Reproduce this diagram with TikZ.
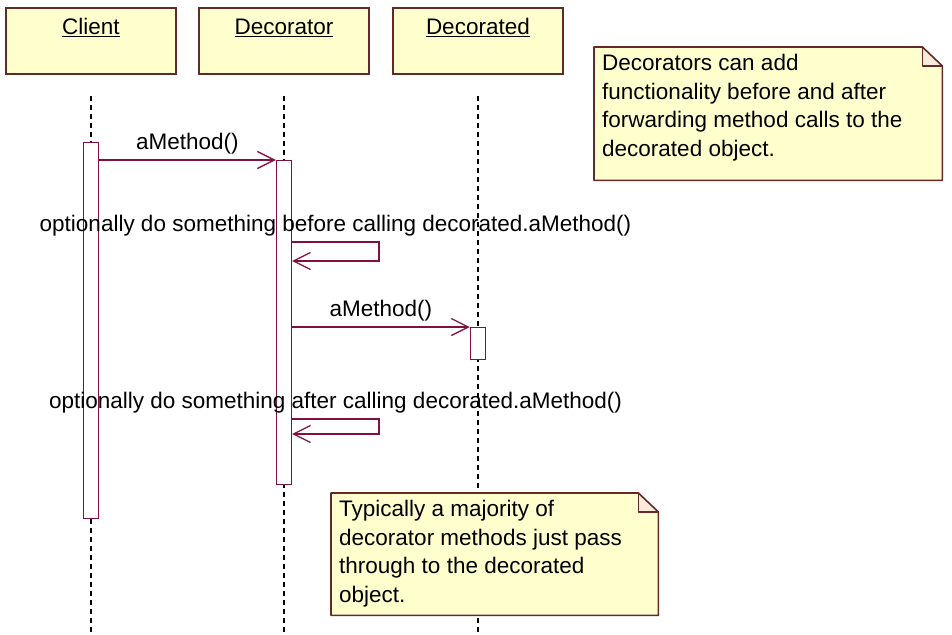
\documentclass[tikz,border=0pt]{standalone}
\usepackage{fontspec}
\setmainfont{Liberation Sans}
\usetikzlibrary{arrows.meta, positioning, calc}

\definecolor{msgline}{RGB}{128,16,64}
\definecolor{objborder}{RGB}{100,42,42}
\definecolor{objfill}{RGB}{255,255,206}
\definecolor{earfill}{RGB}{252,234,218}

\begin{document}
\begin{tikzpicture}[
  x=1pt, y=-1pt,
  font=\fontsize{22.5}{28.5}\selectfont,
  objbox/.style={rectangle, draw=objborder, fill=objfill, line width=1.8pt,
                 minimum width=170pt, minimum height=66pt, inner sep=0pt, anchor=north west},
  objlabel/.style={anchor=base, inner sep=0pt},
  actbox/.style={rectangle, draw=msgline, fill=white, line width=1.3pt,
                 minimum width=15pt, inner sep=0pt, anchor=north},
  lifeline/.style={line width=1.6pt, dash pattern=on 5pt off 4pt},
  msg/.style={draw=msgline, line width=1.3pt, -{Straight Barb[length=17pt, width=17pt]}},
  msglabel/.style={above=5pt, inner sep=0pt},
  noteshape/.style={rectangle, anchor=north west, inner sep=0pt},
  notetext/.style={anchor=north west, align=left, inner xsep=8pt, inner ysep=7pt},
  noteline/.style={draw=objborder, line width=1.6pt, line join=round}
]
\useasboundingbox (0,0) rectangle (952,634);

% objects
\node[objbox] (client) at (5,7) {};
\node[objbox] (decorator) at (198,7) {};
\node[objbox] (decorated) at (392,7) {};
\node[objlabel] (clientlbl) at (client.north |- 0,35) {\underline{Client}};
\node[objlabel] (decoratorlbl) at (decorator.north |- 0,35) {\underline{Decorator}};
\node[objlabel] (decoratedlbl) at (decorated.north |- 0,35) {\underline{Decorated}};

% lifelines
\foreach \obj in {client, decorator, decorated} {
  \coordinate (\obj top) at ($(\obj.south)+(0,21)$);
  \coordinate (\obj end) at (\obj.south |- 0,634);
  \draw[lifeline] (\obj top) -- (\obj end);
}

% activations
\node[actbox, minimum height=376pt] (cact) at (client.south |- 0,142) {};
\node[actbox, minimum height=324pt] (dact) at (decorator.south |- 0,160) {};
\node[actbox, minimum height=32pt] (eact) at (decorated.south |- 0,327) {};

% messages
\draw[msg] (cact.east |- dact.north) -- node[msglabel] (msg1) {aMethod()} (dact.north west);

\coordinate (self1a) at (dact.east |- 0,242);
\coordinate (self1b) at (dact.east |- 0,261);
\draw[msg] (self1a) -- node[msglabel] (before) {optionally do something before calling decorated.aMethod()}
  (self1a -| 379,0) |- (self1b);

\draw[msg] (dact.east |- eact.north) -- node[msglabel] (msg2) {aMethod()} (eact.north west);

\coordinate (self2a) at (dact.east |- 0,419);
\coordinate (self2b) at (dact.east |- 0,434);
\draw[msg] (self2a) -- node[msglabel] (after) {optionally do something after calling decorated.aMethod()}
  (self2a -| 379,0) |- (self2b);

% notes
\node[noteshape, minimum width=348pt, minimum height=133pt] (note1) at (594,47) {};
\node[noteshape, minimum width=327pt, minimum height=122pt] (note2) at (331,493) {};
\foreach \nt in {note1, note2} {
  \coordinate (\nt ear) at ($(\nt.north east)+(-20,0)$);
  \coordinate (\nt earb) at ($(\nt.north east)+(0,19)$);
  \fill[objfill] (\nt.north west) -- (\nt ear) -- (\nt earb) -- (\nt.south east) -- (\nt.south west) -- cycle;
  \fill[earfill] (\nt ear) -- (\nt earb) -- (\nt ear |- \nt earb) -- cycle;
  \draw[noteline] (\nt.north west) -- (\nt ear) -- (\nt earb)
    -- (\nt.south east) -- (\nt.south west) -- cycle;
  \draw[noteline] (\nt ear) |- (\nt earb);
}
\node[notetext] (note1txt) at (note1.north west)
  {Decorators can add\\functionality before and after\\forwarding method calls to the\\decorated object.};
\node[notetext] (note2txt) at (note2.north west)
  {Typically a majority of\\decorator methods just pass\\through to the decorated\\object.};

\end{tikzpicture}
\end{document}
